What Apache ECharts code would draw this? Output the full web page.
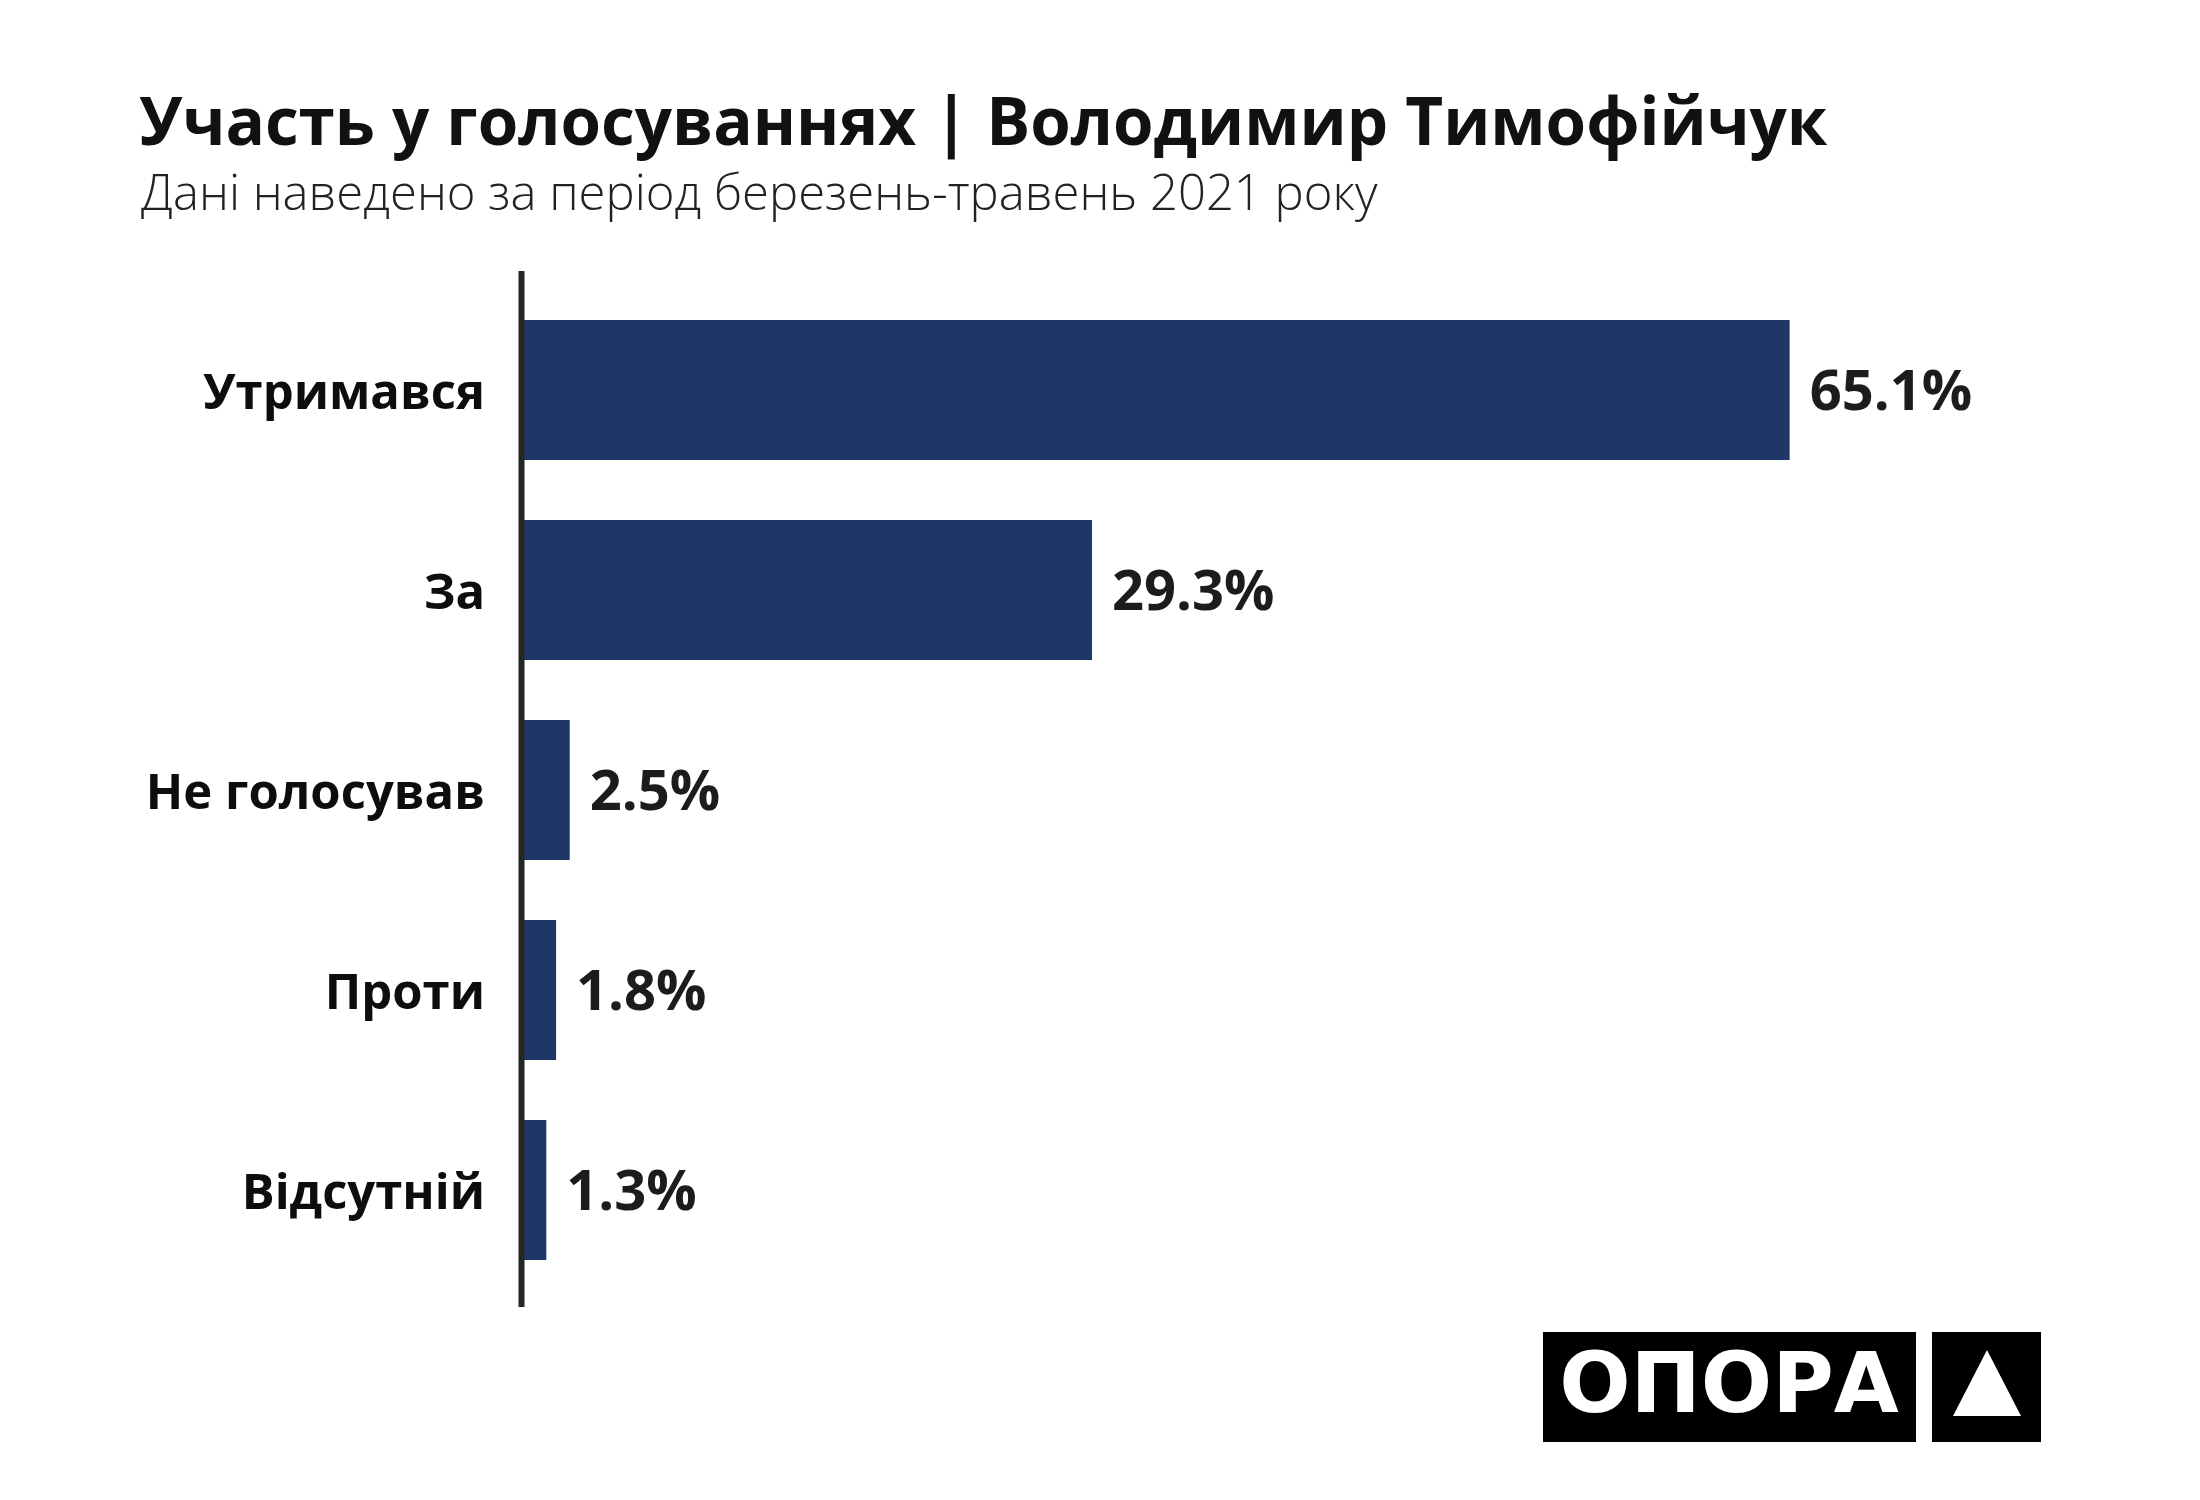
<!doctype html>
<html>
<head>
<meta charset="utf-8">
<title>Участь у голосуваннях</title>
<script src="https://cdn.jsdelivr.net/npm/echarts@6/dist/echarts.min.js"></script>
<style>
  html, body { margin: 0; padding: 0; background: #fff; }
  #chart { width: 2200px; height: 1500px; }
</style>
</head>
<body>
<div id="chart"></div>
<script>
// категорії та значення (%)
var categories = ['Утримався', 'За', 'Не голосував', 'Проти', 'Відсутній'];
var values = [65.1, 29.3, 2.5, 1.8, 1.3];

var titleText = 'Участь у голосуваннях | Володимир Тимофійчук';
var subText = 'Дані наведено за період березень-травень 2021 року';

var gridTop = 290, gridBottom = 210, gridLeft = 521, gridRight = 120;

var chart = echarts.init(document.getElementById('chart'));

var option = {
  backgroundColor: '#ffffff',
  title: [{
    text: titleText,
    left: 134,
    top: 88,
    textStyle: { fontFamily: 'Open Sans', fontWeight: 'bold', fontSize: 65.5, color: '#111111' }
  }, {
    text: subText,
    left: 136,
    top: 167,
    textStyle: { fontFamily: 'Open Sans', fontWeight: 300, fontSize: 49, color: '#222222' }
  }],
  grid: { left: gridLeft, right: gridRight, top: gridTop, bottom: gridBottom, containLabel: false },
  xAxis: {
    type: 'value', min: 0, max: 80,
    show: false
  },
  yAxis: {
    type: 'category',
    data: categories,
    inverse: true,
    axisLine: { show: false },
    axisTick: { show: false },
    axisLabel: {
      margin: 36,
      verticalAlign: 'top',
      lineHeight: 10,
      fontFamily: 'Open Sans', fontWeight: 'bold', fontSize: 49, color: '#0d0d0d'
    }
  },
  series: [{
    type: 'bar',
    data: values,
    barCategoryGap: '30%',
    itemStyle: { color: '#1f3766' },
    label: {
      show: true,
      position: 'right',
      distance: 20,
      offset: [0, 4],
      formatter: function (p) { return p.value.toFixed(1) + '%'; },
      fontFamily: 'Open Sans', fontWeight: 'bold', fontSize: 56, color: '#1c1c1c'
    },
    animation: false
  }],
  graphic: [
    // вертикальна вісь (трохи довша за область категорій)
    {
      type: 'line',
      shape: { x1: 521.5, y1: 271, x2: 521.5, y2: 1307 },
      style: { stroke: '#262622', lineWidth: 6 },
      z: 10
    },
    // логотип ОПОРА
    {
      type: 'rect',
      shape: { x: 1543, y: 1332, width: 373, height: 110 },
      style: { fill: '#000000' }
    },
    {
      type: 'text',
      x: 1729, y: 1390,
      style: {
        text: 'ОПОРА', fill: '#ffffff',
        font: 'bold 84px "DejaVu Sans", sans-serif',
        textAlign: 'center', textVerticalAlign: 'middle'
      }
    },
    {
      type: 'rect',
      shape: { x: 1932, y: 1332, width: 109, height: 110 },
      style: { fill: '#000000' }
    },
    {
      type: 'polygon',
      shape: { points: [[1987, 1350], [2021, 1416], [1953, 1416]] },
      style: { fill: '#ffffff' }
    }
  ]
};

chart.setOption(option);
</script>
</body>
</html>
